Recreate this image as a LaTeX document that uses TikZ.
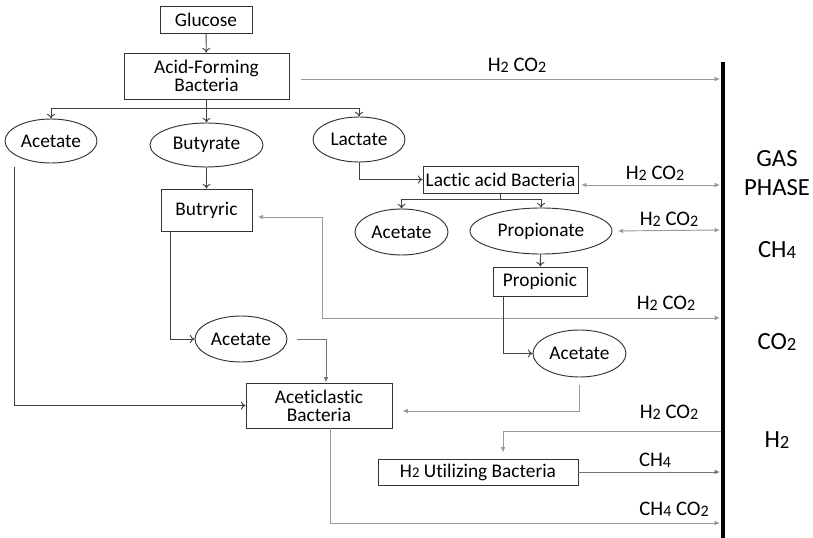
\documentclass[tikz,border=0pt]{standalone}
\usepackage{fontspec}
\setmainfont[Ligatures=NoCommon]{Carlito}
\usetikzlibrary{shapes.geometric,arrows.meta,calc}
\newcommand\sbs[1]{\raisebox{-0.7pt}{\fontsize{12}{12}\selectfont #1}}
\newcommand\nsbs[1]{\raisebox{-0.6pt}{\fontsize{11}{11}\selectfont #1}}
\newcommand\bsbs[1]{\raisebox{-0.8pt}{\fontsize{14}{14}\selectfont #1}}
\begin{document}
\begin{tikzpicture}[x=0.75pt,y=-0.75pt,
  font=\fontsize{14.5}{15}\selectfont,
  boxn/.style={draw=black!80,line width=0.7pt,rectangle,inner sep=1pt,align=center},
  elln/.style={draw=black!80,line width=0.7pt,ellipse,inner sep=0pt},
  lbl/.style={inner sep=0pt,font=\fontsize{15.5}{16}\selectfont},
  side/.style={inner sep=0pt,font=\fontsize{18.5}{20}\selectfont},
  dk/.style={draw=black!75,line width=0.7pt,-{To[length=3.5pt,width=6pt]}},
  md/.style={draw=black!55,line width=0.7pt,-{Latex[length=4pt,width=3.5pt]}},
  lt/.style={draw=black!40,line width=0.7pt,-{Latex[length=4pt,width=3.5pt]}},
  ltb/.style={draw=black!40,line width=0.7pt,{Latex[length=4pt,width=3.5pt]}-{Latex[length=4pt,width=3.5pt]}},
  plain/.style={draw=black!75,line width=0.7pt}]
\useasboundingbox (0,0) rectangle (813,538);
% boxes
\node[boxn,minimum width=69pt,minimum height=20.25pt] (glu) at (206,19.5) {Glucose};
\node[boxn,minimum width=123.75pt,minimum height=34.5pt] (af) at (206.5,76) {Acid-Forming\\[-1.5pt]Bacteria};
\node[boxn,minimum width=68.25pt,minimum height=31.5pt] (byc) at (206.5,210) {Butryric};
\node[boxn,minimum width=116.25pt,minimum height=20.25pt] (lab) at (500.5,179.5) {Lactic acid Bacteria};
\node[boxn,minimum width=70.5pt,minimum height=21.75pt] (prc) at (540,281.5) {Propionic};
\node[boxn,minimum width=109.5pt,minimum height=33.75pt] (acb) at (319,405.5) {Aceticlastic\\[-1.5pt]Bacteria};
\node[boxn,minimum width=150pt,minimum height=19.5pt] (h2u) at (478,472) {H\nsbs{2} Utilizing Bacteria};
% ellipses
\node[elln,minimum width=69pt,minimum height=33pt] (ac1) at (51,141) {Acetate};
\node[elln,minimum width=84.75pt,minimum height=33pt] (bya) at (206.5,145) {Butyrate};
\node[elln,minimum width=69pt,minimum height=33.75pt] (lac) at (359,139.5) {Lactate};
\node[elln,minimum width=69.75pt,minimum height=34.5pt] (ac2) at (401.5,232) {Acetate};
\node[elln,minimum width=106.5pt,minimum height=34.5pt] (pra) at (541,231) {Propionate};
\node[elln,minimum width=69pt,minimum height=34.5pt] (ac3) at (241,339) {Acetate};
\node[elln,minimum width=69.75pt,minimum height=35.25pt] (ac4) at (579.5,353.5) {Acetate};
% gas phase bar
\coordinate (bartop) at (722.5,62);
\coordinate (barbot) at (722.5,538);
\draw[line width=3pt,black] (bartop) -- (barbot);
\coordinate (g1) at (720,79);
\coordinate (g2) at (720,185);
\coordinate (g3) at (720,230);
\coordinate (g4) at (720,318);
\coordinate (g5) at (721,431);
\coordinate (g6) at (720,472);
\coordinate (g7) at (720,523);
\coordinate (k1) at (322,217);
% connectors
\draw[dk] (glu) -- (af);
\draw[lt,shorten <=9pt] (af.east |- g1) -- (g1);
\draw[plain] (af.south) -- ++(0,9) coordinate (br1);
\draw[dk] (br1) -| (ac1.north);
\draw[dk] (br1) -| (lac.north);
\draw[dk] (br1) -- (bya.north);
\draw[dk] (bya) -- (byc);
\draw[dk] (lac.south) |- (lab.west);
\draw[ltb,shorten <=2pt] (lab.east |- g2) -- (g2);
\draw[plain] (lab.south) -- ++(0,6) coordinate (br2);
\draw[dk] (br2) -| (ac2.north);
\draw[dk] (br2) -| (pra.north);
\draw[ltb,shorten <=4pt] (pra.east) -- (g3);
\draw[dk] (pra) -- (prc);
\draw[ltb,shorten <=4pt] (byc.east |- k1) -- (k1) |- (g4);
\draw[dk] ($(byc.south)+(-36.5,0)$) |- (ac3.west);
\draw[md,shorten <=7.5pt] (ac3.east) -| ($(acb.north)+(7,0)$);
\draw[dk] ($(ac1.south)+(-37,4)$) |- (acb.west);
\draw[dk] ($(prc.south)+(-37,0)$) |- (ac4.west);
\draw[lt] ($(ac4.south)+(0,8)$) |- ($(acb.east)+(10,5.5)$);
\draw[lt] (g5) -| ($(h2u.north)+(25,-6)$);
\draw[md] (h2u.east) -- (g6);
\draw[lt] ($(acb.south)+(11,0)$) |- (g7);
% labels
\node[lbl] (l1) at (517,65) {H\sbs{2} CO\sbs{2}};
\node[lbl] (l2) at (655,173) {H\sbs{2} CO\sbs{2}};
\node[lbl] (l3) at (669,219) {H\sbs{2} CO\sbs{2}};
\node[lbl] (l4) at (666,303) {H\sbs{2} CO\sbs{2}};
\node[lbl] (l5) at (669,412) {H\sbs{2} CO\sbs{2}};
\node[lbl] (l6) at (655,460) {CH\sbs{4}};
\node[lbl] (l7) at (674,509) {CH\sbs{4} CO\sbs{2}};
\node[side] (s1) at (777,159) {GAS};
\node[side] (s2) at (777,188) {PHASE};
\node[side] (s3) at (777,250) {CH\bsbs{4}};
\node[side] (s4) at (777,342) {CO\bsbs{2}};
\node[side] (s5) at (777,440) {H\bsbs{2}};
\end{tikzpicture}
\end{document}
